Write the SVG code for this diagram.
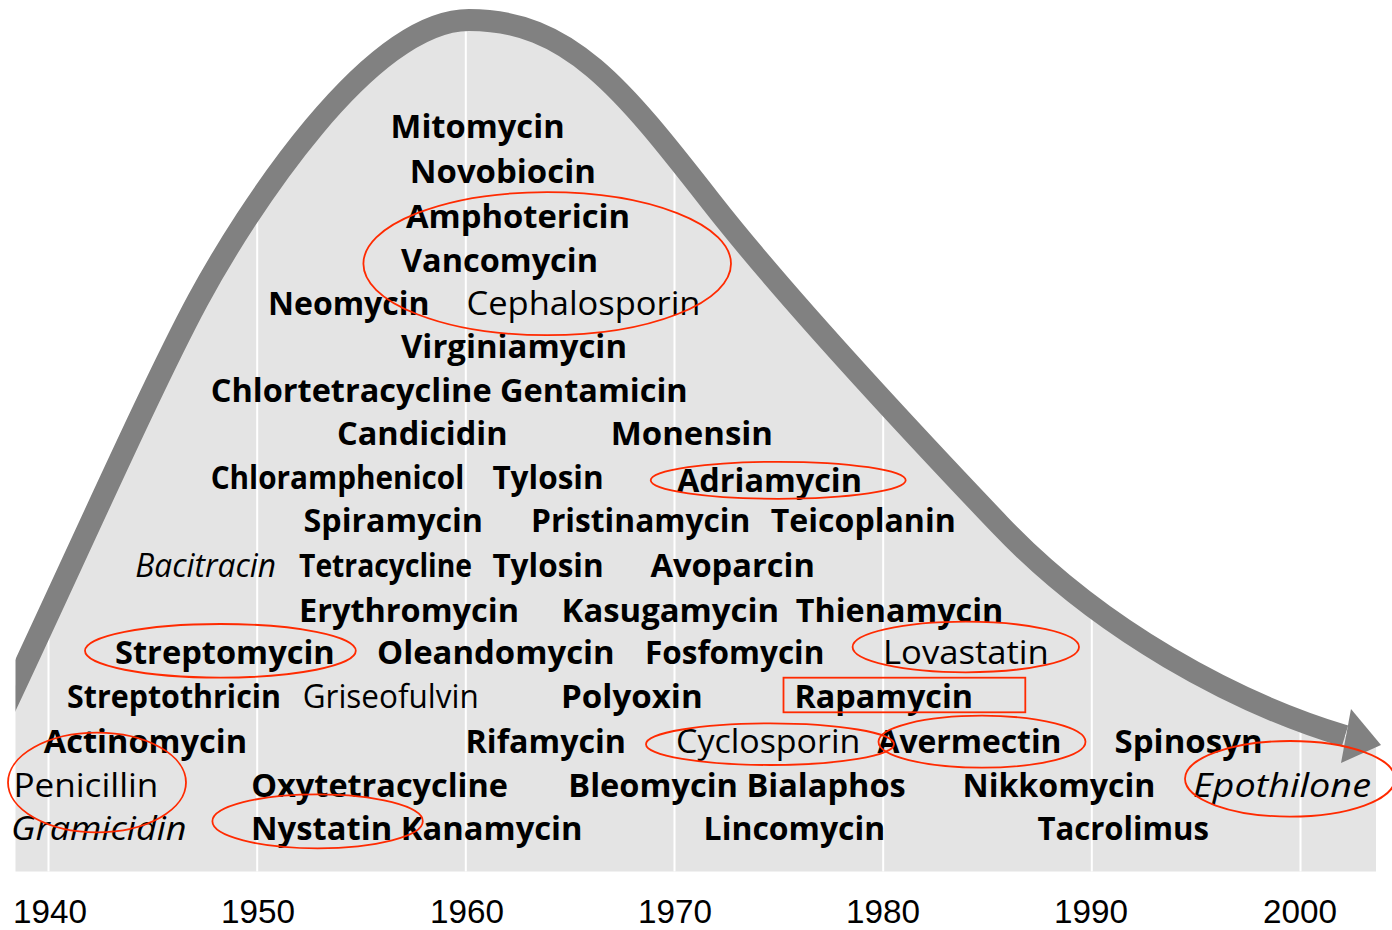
<svg xmlns="http://www.w3.org/2000/svg" width="1392" height="930" viewBox="0 0 1392 930">
<defs>
<style>
text{font-family:"Open Sans","Liberation Sans",sans-serif;font-size:32.5px;fill:#000}
.b{font-weight:700}
.r{font-weight:400}
.i{font-weight:400;font-style:italic}
.yr{font-family:"Liberation Sans","Open Sans",sans-serif;font-weight:400;font-size:32.5px}
.ring{fill:none;stroke:#ff2a00;stroke-width:1.8}
.grid{stroke:#ffffff;stroke-width:2}
</style>
<clipPath id="clipL"><rect x="15.5" y="0" width="1380" height="930"/></clipPath>
<clipPath id="clipFill"><path d="M 0,718 C 66,579 150,389 198,300 C 245,213 369,20 469,20 C 569,20 622,88 712,203 C 792,305 920,441 1000,525 C 1100,630 1235,703 1345,736 L 1376,745 L 1376,871.5 L 0,871.5 Z"/></clipPath>
</defs>
<rect width="1392" height="930" fill="#ffffff"/>
<g id="chart" clip-path="url(#clipL)">
<path id="area" fill="#e4e4e4" d="M 0,718 C 66,579 150,389 198,300 C 245,213 369,20 469,20 C 569,20 622,88 712,203 C 792,305 920,441 1000,525 C 1100,630 1235,703 1345,736 L 1376,745 L 1376,871.5 L 0,871.5 Z"/>
<g id="gridlines" clip-path="url(#clipFill)">
<line class="grid" x1="48.5" y1="0" x2="48.5" y2="872"/>
<line class="grid" x1="257.2" y1="0" x2="257.2" y2="872"/>
<line class="grid" x1="465.8" y1="0" x2="465.8" y2="872"/>
<line class="grid" x1="674.5" y1="0" x2="674.5" y2="872"/>
<line class="grid" x1="883.2" y1="0" x2="883.2" y2="872"/>
<line class="grid" x1="1091.8" y1="0" x2="1091.8" y2="872"/>
<line class="grid" x1="1300.5" y1="0" x2="1300.5" y2="872"/>
</g>
<g id="connectors">
<path id="trend" fill="none" stroke="#818181" stroke-width="22" d="M 0,718 C 66,579 150,389 198,300 C 245,213 369,20 469,20 C 569,20 622,88 712,203 C 792,305 920,441 1000,525 C 1100,630 1235,703 1345,736"/>
<polygon id="trend-head" fill="#818181" points="1351,709 1381,745 1341,763"/>
</g>
</g>
<g id="years">
<text class="yr" x="13" y="922.5" textLength="74" lengthAdjust="spacingAndGlyphs">1940</text>
<text class="yr" x="221" y="922.5" textLength="74" lengthAdjust="spacingAndGlyphs">1950</text>
<text class="yr" x="430" y="922.5" textLength="74" lengthAdjust="spacingAndGlyphs">1960</text>
<text class="yr" x="638" y="922.5" textLength="74" lengthAdjust="spacingAndGlyphs">1970</text>
<text class="yr" x="846" y="922.5" textLength="74" lengthAdjust="spacingAndGlyphs">1980</text>
<text class="yr" x="1054" y="922.5" textLength="74" lengthAdjust="spacingAndGlyphs">1990</text>
<text class="yr" x="1263" y="922.5" textLength="74" lengthAdjust="spacingAndGlyphs">2000</text>
</g>
<g id="labels">
<g id="n-mitomycin"><text class="b" x="390.6" y="138" textLength="174" lengthAdjust="spacingAndGlyphs">Mitomycin</text></g>
<g id="n-novobiocin"><text class="b" x="409.8" y="183" textLength="186" lengthAdjust="spacingAndGlyphs">Novobiocin</text></g>
<g id="n-amphotericin"><text class="b" x="406" y="227.5" textLength="224" lengthAdjust="spacingAndGlyphs">Amphotericin</text></g>
<g id="n-vancomycin"><text class="b" x="401" y="271.5" textLength="197" lengthAdjust="spacingAndGlyphs">Vancomycin</text></g>
<g id="n-neomycin"><text class="b" x="268" y="315" textLength="161.5" lengthAdjust="spacingAndGlyphs">Neomycin</text></g>
<g id="n-cephalosporin"><text class="r" x="466.5" y="315" textLength="234" lengthAdjust="spacingAndGlyphs">Cephalosporin</text></g>
<g id="n-virginiamycin"><text class="b" x="401" y="358.3" textLength="226" lengthAdjust="spacingAndGlyphs">Virginiamycin</text></g>
<g id="n-chlortetracycline-gentamicin"><text class="b" x="210.7" y="401.7" textLength="477" lengthAdjust="spacingAndGlyphs">Chlortetracycline Gentamicin</text></g>
<g id="n-candicidin"><text class="b" x="337" y="445" textLength="170.6" lengthAdjust="spacingAndGlyphs">Candicidin</text></g>
<g id="n-monensin"><text class="b" x="610.7" y="445" textLength="162.3" lengthAdjust="spacingAndGlyphs">Monensin</text></g>
<g id="n-chloramphenicol"><text class="b" x="210.7" y="488.5" textLength="253.6" lengthAdjust="spacingAndGlyphs">Chloramphenicol</text></g>
<g id="n-tylosin-1"><text class="b" x="492.4" y="488.5" textLength="111.2" lengthAdjust="spacingAndGlyphs">Tylosin</text></g>
<g id="n-adriamycin"><text class="b" x="677" y="491.5" textLength="185" lengthAdjust="spacingAndGlyphs">Adriamycin</text></g>
<g id="n-spiramycin"><text class="b" x="303.6" y="532" textLength="179.4" lengthAdjust="spacingAndGlyphs">Spiramycin</text></g>
<g id="n-pristinamycin"><text class="b" x="531" y="532" textLength="219.4" lengthAdjust="spacingAndGlyphs">Pristinamycin</text></g>
<g id="n-teicoplanin"><text class="b" x="770.8" y="532" textLength="185" lengthAdjust="spacingAndGlyphs">Teicoplanin</text></g>
<g id="n-bacitracin"><text class="i" x="135.3" y="576.7" textLength="140.7" lengthAdjust="spacingAndGlyphs">Bacitracin</text></g>
<g id="n-tetracycline"><text class="b" x="299" y="576.7" textLength="173" lengthAdjust="spacingAndGlyphs">Tetracycline</text></g>
<g id="n-tylosin-2"><text class="b" x="492.4" y="576.7" textLength="111.2" lengthAdjust="spacingAndGlyphs">Tylosin</text></g>
<g id="n-avoparcin"><text class="b" x="650.4" y="576.7" textLength="164.5" lengthAdjust="spacingAndGlyphs">Avoparcin</text></g>
<g id="n-erythromycin"><text class="b" x="299" y="621.5" textLength="220" lengthAdjust="spacingAndGlyphs">Erythromycin</text></g>
<g id="n-kasugamycin"><text class="b" x="561.6" y="621.5" textLength="217.4" lengthAdjust="spacingAndGlyphs">Kasugamycin</text></g>
<g id="n-thienamycin"><text class="b" x="795.8" y="621.5" textLength="207.5" lengthAdjust="spacingAndGlyphs">Thienamycin</text></g>
<g id="n-streptomycin"><text class="b" x="115" y="664" textLength="219.8" lengthAdjust="spacingAndGlyphs">Streptomycin</text></g>
<g id="n-oleandomycin"><text class="b" x="377" y="664" textLength="237.7" lengthAdjust="spacingAndGlyphs">Oleandomycin</text></g>
<g id="n-fosfomycin"><text class="b" x="645" y="664" textLength="179.4" lengthAdjust="spacingAndGlyphs">Fosfomycin</text></g>
<g id="n-lovastatin"><text class="r" x="883" y="664" textLength="165.8" lengthAdjust="spacingAndGlyphs">Lovastatin</text></g>
<g id="n-streptothricin"><text class="b" x="67" y="708.3" textLength="214" lengthAdjust="spacingAndGlyphs">Streptothricin</text></g>
<g id="n-griseofulvin"><text class="r" x="302.7" y="708.3" textLength="176" lengthAdjust="spacingAndGlyphs">Griseofulvin</text></g>
<g id="n-polyoxin"><text class="b" x="561" y="708.3" textLength="141.7" lengthAdjust="spacingAndGlyphs">Polyoxin</text></g>
<g id="n-rapamycin"><text class="b" x="794.4" y="708.3" textLength="178.6" lengthAdjust="spacingAndGlyphs">Rapamycin</text></g>
<g id="n-actinomycin"><text class="b" x="43.8" y="753" textLength="203.3" lengthAdjust="spacingAndGlyphs">Actinomycin</text></g>
<g id="n-rifamycin"><text class="b" x="465.6" y="753" textLength="160.4" lengthAdjust="spacingAndGlyphs">Rifamycin</text></g>
<g id="n-cyclosporin"><text class="r" x="676" y="753" textLength="184.3" lengthAdjust="spacingAndGlyphs">Cyclosporin</text></g>
<g id="n-avermectin"><text class="b" x="877.5" y="753" textLength="184" lengthAdjust="spacingAndGlyphs">Avermectin</text></g>
<g id="n-spinosyn"><text class="b" x="1114.6" y="753" textLength="148" lengthAdjust="spacingAndGlyphs">Spinosyn</text></g>
<g id="n-penicillin"><text class="r" x="13.4" y="796.7" textLength="145" lengthAdjust="spacingAndGlyphs">Penicillin</text></g>
<g id="n-oxytetracycline"><text class="b" x="251.3" y="796.7" textLength="256.7" lengthAdjust="spacingAndGlyphs">Oxytetracycline</text></g>
<g id="n-bleomycin-bialaphos"><text class="b" x="568.3" y="796.7" textLength="337.4" lengthAdjust="spacingAndGlyphs">Bleomycin Bialaphos</text></g>
<g id="n-nikkomycin"><text class="b" x="962.5" y="796.7" textLength="193" lengthAdjust="spacingAndGlyphs">Nikkomycin</text></g>
<g id="n-epothilone"><text class="i" x="1193" y="796.7" textLength="178" lengthAdjust="spacingAndGlyphs">Epothilone</text></g>
<g id="n-gramicidin"><text class="i" x="11" y="840" textLength="175.6" lengthAdjust="spacingAndGlyphs">Gramicidin</text></g>
<g id="n-nystatin-kanamycin"><text class="b" x="251" y="840" textLength="331.6" lengthAdjust="spacingAndGlyphs">Nystatin Kanamycin</text></g>
<g id="n-lincomycin"><text class="b" x="703.6" y="840" textLength="181.7" lengthAdjust="spacingAndGlyphs">Lincomycin</text></g>
<g id="n-tacrolimus"><text class="b" x="1037.4" y="840" textLength="171.6" lengthAdjust="spacingAndGlyphs">Tacrolimus</text></g>
</g>
<g id="highlights">
<ellipse class="ring" cx="547.2" cy="263.7" rx="183.8" ry="71.5"/>
<ellipse class="ring" cx="778.2" cy="480.3" rx="127.5" ry="18.5"/>
<ellipse class="ring" cx="220.4" cy="650.8" rx="135.4" ry="26.8"/>
<ellipse class="ring" cx="965.8" cy="647" rx="113.2" ry="25.3"/>
<rect class="ring" x="783.5" y="677.7" width="241.8" height="34.6"/>
<ellipse class="ring" cx="770" cy="744.2" rx="124" ry="20.8"/>
<ellipse class="ring" cx="982" cy="741.7" rx="103.5" ry="26"/>
<ellipse class="ring" cx="1290" cy="778.8" rx="105" ry="37.8"/>
<ellipse class="ring" cx="97" cy="782.5" rx="89" ry="49.8"/>
<ellipse class="ring" cx="317.6" cy="821.3" rx="105.2" ry="27"/>
</g>
</svg>
